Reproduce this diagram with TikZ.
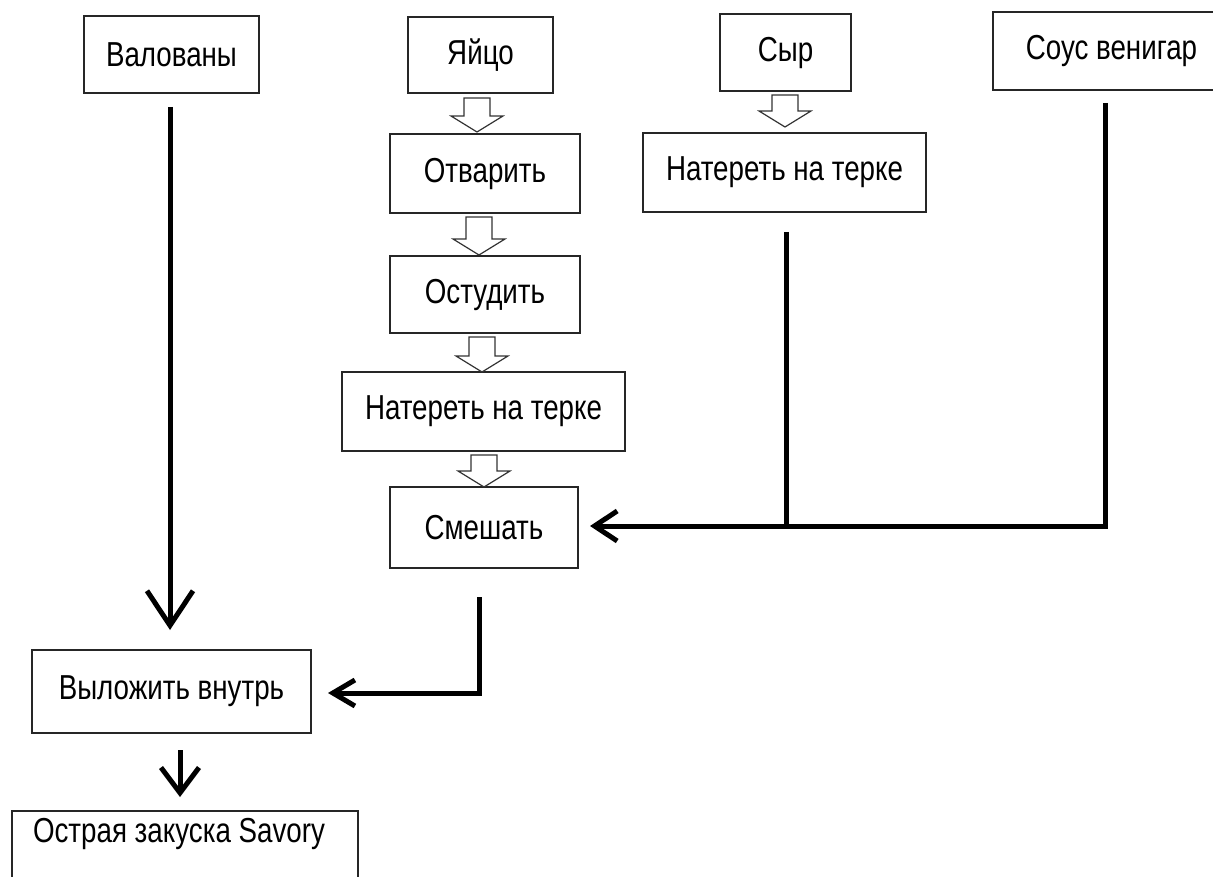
\documentclass[tikz,border=0pt]{standalone}
\usepackage{fontspec}
\setmainfont{Liberation Sans}[FakeStretch=0.8]
\usetikzlibrary{arrows.meta,calc}
\tikzset{
  box/.style={draw=black!85, line width=1.5pt, inner sep=0pt, font=\fontsize{26}{30}\selectfont},
  lbl/.style={inner sep=0pt, font=\fontsize{26}{30}\selectfont},
  flow/.style={line width=3.75pt, line cap=butt, line join=miter},
  hollow/.style={draw=black!80, line width=0.9pt, fill=white, line join=miter},
}
\newcommand{\blockarr}[3]{% cx, top, tip
  \draw[hollow] ({#1-13},#2) -- ({#1+13},#2) -- ({#1+13},{#3-16}) -- ({#1+26},{#3-16})
    -- (#1,#3) -- ({#1-26},{#3-16}) -- ({#1-13},{#3-16}) -- cycle;}
\newcommand{\bx}[6]{% name, x1, y1, x2, y2, text
  \node[box, minimum width={(#4-#2)*0.75pt}, minimum height={(#5-#3)*0.75pt}]
    (#1) at ({(#2+#4)/2},{(#3+#5)/2}) {#6};}
\begin{document}
\begin{tikzpicture}[x=0.75pt,y=-0.75pt]
\useasboundingbox (0,0) rectangle (1213,877);
\clip (0,0) rectangle (1213,877);
% boxes
\bx{val}{84}{16}{259}{93}{Валованы}
\bx{egg}{408}{17}{553}{93}{Яйцо}
\bx{syr}{720}{14}{851}{91}{Сыр}
\bx{sous}{993}{12}{1230}{90}{Соус венигар}
\bx{otv}{390}{134}{580}{213}{Отварить}
\bx{nat2}{643}{133}{926}{212}{Натереть на терке}
\bx{ost}{390}{256}{580}{333}{Остудить}
\bx{nat1}{342}{372}{625}{451}{Натереть на терке}
\bx{sme}{390}{487}{578}{568}{Смешать}
\bx{vyl}{32}{650}{311}{733}{Выложить внутрь}
\bx{sav}{12}{811}{358}{910}{}
\node[lbl] (savt) at (179,834) {Острая закуска Savory};
% hollow block arrows
\blockarr{477}{98}{132}
\blockarr{479}{217}{255}
\blockarr{482}{337}{372}
\blockarr{484}{455}{487}
\blockarr{785}{95}{127}
% coordinates
\coordinate (valtop) at (170,107);
\coordinate (valend) at (170,630);
\coordinate (syrtop) at (786,232);
\coordinate (join) at (786,526);
\coordinate (soustop) at (1105,103);
\coordinate (souscorner) at (1105,526);
\coordinate (smtip) at (590,526);
\coordinate (smtop) at (479,597);
\coordinate (smcorner) at (479,693);
\coordinate (vyltip) at (328,693);
\coordinate (vylbot) at (180,750);
\coordinate (savtip) at (180,797);
% thick connectors
\draw[flow, -{Straight Barb[length=26pt,width=34.5pt]}] (valtop) -- (valend);
\draw[flow] (syrtop) -- (join);
\draw[flow, -{Straight Barb[length=17pt,width=22.5pt]}] (soustop) -- (souscorner) -- (smtip);
\draw[flow, -{Straight Barb[length=16.5pt,width=19.5pt]}] (smtop) -- (smcorner) -- (vyltip);
\draw[flow, -{Straight Barb[length=19pt,width=28.5pt]}] (vylbot) -- (savtip);
\end{tikzpicture}
\end{document}
